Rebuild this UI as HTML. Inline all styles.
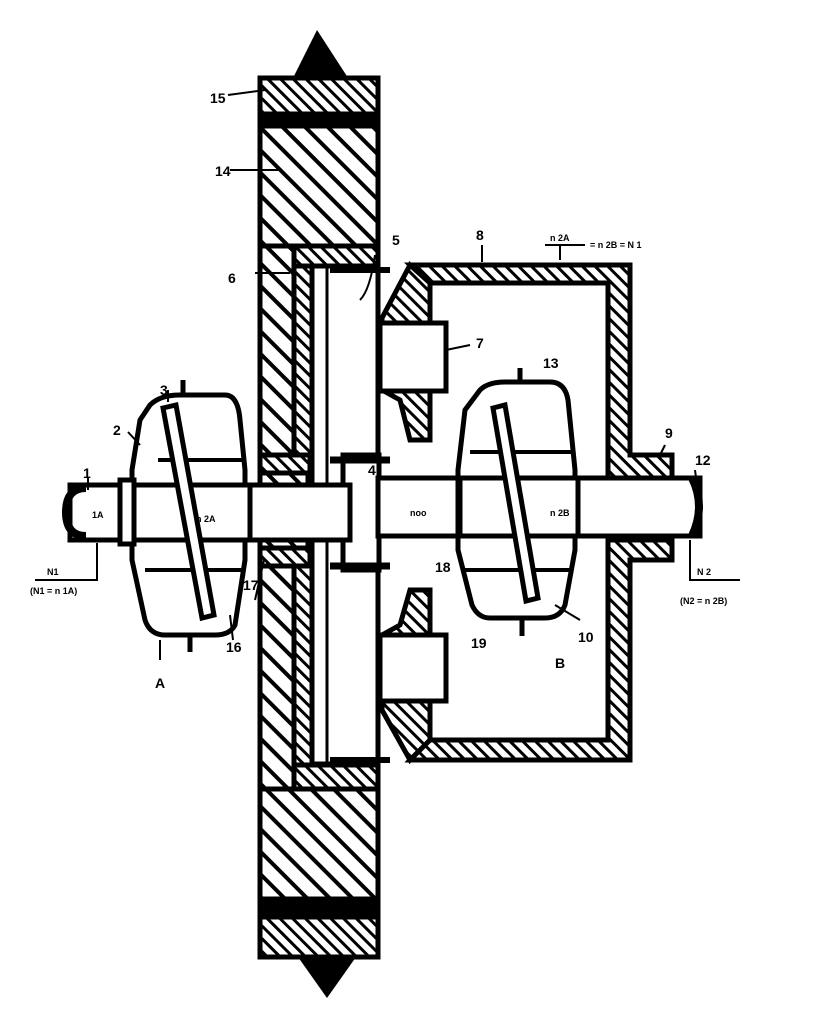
<!DOCTYPE html>
<html><head><meta charset="utf-8"><style>
html,body{margin:0;padding:0;background:#fff;}
svg{display:block}
text{font-family:"Liberation Sans",sans-serif;font-weight:bold;fill:#000}
</style></head><body>
<svg width="825" height="1026" viewBox="0 0 825 1026" xmlns="http://www.w3.org/2000/svg">
<defs>
<pattern id="h" width="16" height="16" patternUnits="userSpaceOnUse" patternTransform="rotate(45)">
<rect width="16" height="16" fill="#fff"/><rect width="16" height="4" fill="#000"/></pattern>
<pattern id="hs" width="9" height="9" patternUnits="userSpaceOnUse" patternTransform="rotate(45)">
<rect width="9" height="9" fill="#fff"/><rect width="9" height="3" fill="#000"/></pattern>
</defs>
<g stroke="#000" stroke-width="5">
<polygon points="317,30 290,84 352,84" fill="#000" stroke="none"/>
<rect x="260" y="78" width="118" height="40" fill="url(#hs)"/>
<rect x="260" y="114" width="118" height="12" fill="#000"/>
<rect x="260" y="126" width="118" height="120" fill="url(#h)"/>
<rect x="260" y="246" width="48" height="545" fill="url(#h)"/>
<rect x="294" y="250" width="18" height="210" fill="url(#hs)"/>
<rect x="294" y="560" width="18" height="230" fill="url(#hs)"/>
<rect x="294" y="246" width="84" height="20" fill="url(#hs)"/>
<rect x="294" y="765" width="84" height="24" fill="url(#hs)"/>
<rect x="260" y="455" width="50" height="18" fill="url(#hs)"/>
<rect x="260" y="548" width="50" height="18" fill="url(#hs)"/>
<rect x="260" y="789" width="118" height="112" fill="url(#h)"/>
<rect x="260" y="899" width="118" height="18" fill="#000"/>
<rect x="260" y="917" width="118" height="40" fill="url(#hs)"/>
<polygon points="327,998 298,957 356,957" fill="#000" stroke="none"/>
<rect x="312" y="266" width="66" height="498" fill="#fff"/>
<line x1="327" y1="266" x2="327" y2="764" stroke-width="3"/>
<rect x="343" y="455" width="36" height="115" fill="#fff"/>
<line x1="330" y1="460" x2="390" y2="460" stroke-width="7"/>
<line x1="330" y1="566" x2="390" y2="566" stroke-width="7"/>
<line x1="330" y1="270" x2="390" y2="270" stroke-width="6"/>
<line x1="330" y1="760" x2="390" y2="760" stroke-width="6"/>
<path d="M410,265 H630 V455 H672 V480 H608 V283 H428 Z" fill="url(#hs)"/>
<path d="M410,760 H630 V560 H672 V540 H608 V740 H428 Z" fill="url(#hs)"/>
<path d="M382,318 L410,265 L430,283 L430,440 L410,440 L400,400 L382,390 Z" fill="url(#hs)"/>
<path d="M382,710 L410,760 L430,740 L430,590 L410,590 L400,625 L382,635 Z" fill="url(#hs)"/>
<rect x="380" y="323" width="66" height="68" fill="#fff"/>
<rect x="380" y="635" width="66" height="66" fill="#fff"/>
<rect x="70" y="485" width="280" height="55" fill="#fff"/>
<path d="M86,488 Q66,488 66,512 Q66,536 86,536" fill="none" stroke-width="8"/>
<rect x="378" y="478" width="322" height="58" fill="#fff"/>
<path d="M692,478 Q706,506 692,536" fill="none" stroke-width="8"/>
<path d="M150,405 Q160,395 180,395 L225,395 Q238,395 240,420 L245,470 L245,560 L235,625 Q230,635 215,635 L165,635 Q150,635 145,620 L132,560 L132,470 L140,420 Z" fill="#fff"/>
<rect x="132" y="485" width="118" height="55" fill="#fff"/>
<line x1="158" y1="460" x2="245" y2="460" stroke-width="4"/>
<line x1="145" y1="570" x2="245" y2="570" stroke-width="4"/>
<rect x="120" y="480" width="14" height="64" fill="#fff"/>
<polygon points="163,408 176,405 214,615 202,618" fill="#fff"/>
<line x1="183" y1="380" x2="183" y2="396" stroke-width="5"/>
<line x1="190" y1="636" x2="190" y2="652" stroke-width="5"/>
<path d="M480,390 Q488,382 505,382 L550,382 Q565,382 568,400 L575,470 L575,550 L565,605 Q560,618 545,618 L490,618 Q478,618 472,605 L458,550 L458,470 L465,410 Z" fill="#fff"/>
<rect x="460" y="478" width="118" height="58" fill="#fff"/>
<line x1="470" y1="452" x2="575" y2="452" stroke-width="4"/>
<line x1="465" y1="570" x2="570" y2="570" stroke-width="4"/>
<polygon points="493,408 505,405 538,598 526,601" fill="#fff"/>
<line x1="520" y1="368" x2="520" y2="382" stroke-width="5"/>
<line x1="522" y1="620" x2="522" y2="636" stroke-width="5"/>
</g>
<g stroke="#000" stroke-width="2" fill="none">
<path d="M228,95 L265,90"/><path d="M230,170 L282,170"/><path d="M255,273 L290,273"/>
<path d="M375,255 Q370,290 360,300"/><path d="M482,245 L482,262"/>
<path d="M446,350 L470,345"/><path d="M88,478 L88,490"/>
<path d="M128,432 L140,445"/><path d="M168,390 L168,402"/>
<path d="M97,543 L97,580 L35,580"/><path d="M690,540 L690,580 L740,580"/>
<path d="M660,455 L665,445"/><path d="M695,470 L697,485"/>
<path d="M264,560 L255,600"/><path d="M160,640 L160,660"/>
<path d="M230,615 L233,640"/><path d="M555,605 L580,620"/>
<path d="M560,260 L560,245 M545,245 H585"/>
</g>
<g font-size="14">
<text x="210" y="103">15</text><text x="215" y="176">14</text>
<text x="228" y="283">6</text><text x="392" y="245">5</text><text x="476" y="240">8</text>
<text x="476" y="348">7</text><text x="160" y="395">3</text><text x="113" y="435">2</text>
<text x="83" y="478">1</text><text x="543" y="368">13</text><text x="665" y="438">9</text>
<text x="695" y="465">12</text><text x="368" y="475">4</text><text x="435" y="572">18</text>
<text x="243" y="590">17</text><text x="226" y="652">16</text><text x="155" y="688">A</text>
<text x="471" y="648">19</text><text x="555" y="668">B</text><text x="578" y="642">10</text>
</g>
<g font-size="9">
<text x="92" y="518">1A</text><text x="196" y="522">n 2A</text><text x="550" y="516">n 2B</text><text x="410" y="516">noo</text>
<text x="47" y="575">N1</text><text x="30" y="594">(N1 = n 1A)</text>
<text x="697" y="575">N 2</text><text x="680" y="604">(N2 = n 2B)</text>
<text x="550" y="241">n 2A</text><text x="590" y="248">= n 2B = N 1</text>
</g>
</svg>
</body></html>
